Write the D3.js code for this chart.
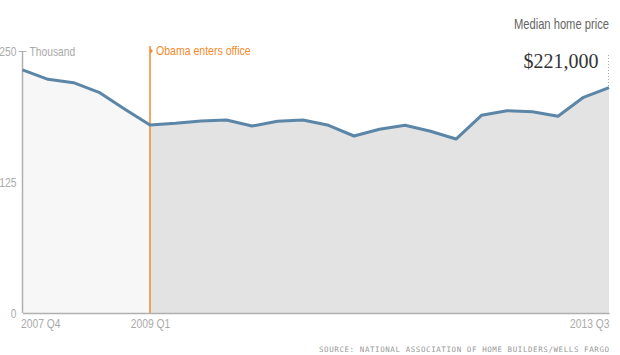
<!DOCTYPE html>
<html>
<head>
<meta charset="utf-8">
<script src="https://cdn.jsdelivr.net/npm/d3@7"></script>
<style>
  body { margin: 0; background: #fff; }
  svg { display: block; }
  .cond { font-family: 'Liberation Sans', Arial, sans-serif; }
</style>
</head>
<body>
<script>
// quarterly median home price, thousands of dollars
const quarters = [
  '2007 Q4',
  '2008 Q1', '2008 Q2', '2008 Q3', '2008 Q4',
  '2009 Q1', '2009 Q2', '2009 Q3', '2009 Q4',
  '2010 Q1', '2010 Q2', '2010 Q3', '2010 Q4',
  '2011 Q1', '2011 Q2', '2011 Q3', '2011 Q4',
  '2012 Q1', '2012 Q2', '2012 Q3', '2012 Q4',
  '2013 Q1', '2013 Q2', '2013 Q3'
]
const prices = [
  232, 223, 219.8, 210.6,
  194.7, 179.4, 181, 183.2,
  184.2, 178.4, 182.9, 184.2,
  179.1, 168.9, 175.3, 179.1,
  173.4, 166, 188.6, 193,
  192.1, 187.7, 205.8, 215
]
const yTicks = [0, 125, 250]
const xLabels = ['2007 Q4', '2009 Q1', '2013 Q3']
const marker = '2009 Q1'
const latestLabel = '$221,000'

const W = 620, H = 355
const m = { left: 22.5, right: 11, top: 51, bottom: 42 }

const data = quarters.map((q, i) => ({ q, v: prices[i] }))

const x = d3.scalePoint().domain(quarters).range([m.left, W - m.right])
const y = d3.scaleLinear().domain([0, 250]).range([H - m.bottom, m.top])

// squeeze text horizontally to imitate the narrow face of the original
const narrow = (sel, f = 0.8) => sel.each(function () {
  const len = this.getComputedTextLength()
  d3.select(this).attr('textLength', len * f).attr('lengthAdjust', 'spacingAndGlyphs')
})

const svg = d3.select('body').append('svg').attr('width', W).attr('height', H)

const area = d3.area().x(d => x(d.q)).y0(y(0)).y1(d => y(d.v))
const line = d3.line().x(d => x(d.q)).y(d => y(d.v))

const split = quarters.indexOf(marker)

svg.append('path')
  .datum(data.slice(0, split + 1))
  .attr('d', area)
  .attr('fill', '#f7f7f7')

svg.append('path')
  .datum(data.slice(split))
  .attr('d', area)
  .attr('fill', '#e3e3e3')

// y axis
const yAxis = svg.append('g')
  .attr('class', 'cond')
  .attr('transform', `translate(${m.left},0)`)
  .call(d3.axisLeft(y).tickValues(yTicks).tickSize(0).tickPadding(6))
yAxis.select('.domain').attr('stroke', '#b0b0b0').attr('stroke-width', 1.5)
  .attr('d', `M0,${y(250)}V${y(0)}`)
yAxis.selectAll('.tick text').attr('fill', '#aaa').attr('font-size', 13)
  .attr('font-family', null).call(narrow, 0.79)
yAxis.select('.tick:last-of-type').append('line')
  .attr('x1', -4).attr('x2', 4).attr('stroke', '#b0b0b0')
yAxis.select('.tick:last-of-type').append('text')
  .attr('x', 7).attr('dy', '0.32em').attr('text-anchor', 'start')
  .attr('fill', '#aaa').attr('font-size', 13).text('Thousand').call(narrow, 0.79)

// x axis
const xAxis = svg.append('g')
  .attr('class', 'cond')
  .attr('transform', `translate(0,${y(0)})`)
  .call(d3.axisBottom(x).tickValues(xLabels).tickSize(0).tickPadding(6))
xAxis.select('.domain').attr('stroke', '#b0b0b0').attr('stroke-width', 1.5)
xAxis.selectAll('.tick text').attr('fill', '#aaa').attr('font-size', 13)
  .attr('font-family', null)
  .attr('text-anchor', (d, i) => i === 0 ? 'start' : i === xLabels.length - 1 ? 'end' : 'middle')
  .attr('dx', (d, i) => i === 0 ? -2 : 0)
  .call(narrow, 0.79)

// Obama marker
const mx = x(marker)
svg.append('line')
  .attr('x1', mx).attr('x2', mx).attr('y1', y(250) - 5).attr('y2', y(0))
  .attr('stroke', '#f58a2c').attr('stroke-width', 1.5)
svg.append('path')
  .attr('d', `M${mx},${y(250) - 3}l3,3l-3,3z`)
  .attr('fill', '#f58a2c')
svg.append('text')
  .attr('class', 'cond')
  .attr('x', mx + 6).attr('y', y(250)).attr('dy', '0.32em')
  .attr('fill', '#f58a2c').attr('font-size', 13)
  .text('Obama enters office').call(narrow, 0.81)

// price line
svg.append('path')
  .datum(data)
  .attr('d', line)
  .attr('fill', 'none')
  .attr('stroke', '#5b86a7')
  .attr('stroke-width', 3)
  .attr('stroke-linejoin', 'round')

// latest value callout
const last = data[data.length - 1]
const lx = x(last.q) - 0.5
svg.append('line')
  .attr('x1', lx).attr('x2', lx).attr('y1', 55).attr('y2', y(last.v))
  .attr('stroke', '#aaa').attr('stroke-width', 1).attr('stroke-dasharray', '1,2')
svg.append('text')
  .attr('x', lx - 10).attr('y', 68)
  .attr('text-anchor', 'end')
  .attr('font-family', "'Liberation Serif', 'DejaVu Serif', serif")
  .attr('font-size', 20).attr('fill', '#333')
  .text(latestLabel)

svg.append('text')
  .attr('class', 'cond')
  .attr('transform', `translate(${W - m.right},29) scale(0.8,1)`)
  .attr('text-anchor', 'end')
  .attr('font-size', 14).attr('fill', '#666')
  .text('Median home price')

svg.append('text')
  .attr('x', W - m.right).attr('y', 352)
  .attr('text-anchor', 'end')
  .attr('font-family', "'DejaVu Sans Mono', monospace")
  .attr('font-size', 7.5).attr('fill', '#999')
  .attr('textLength', 290).attr('lengthAdjust', 'spacing')
  .text('SOURCE: NATIONAL ASSOCIATION OF HOME BUILDERS/WELLS FARGO')
</script>
</body>
</html>
